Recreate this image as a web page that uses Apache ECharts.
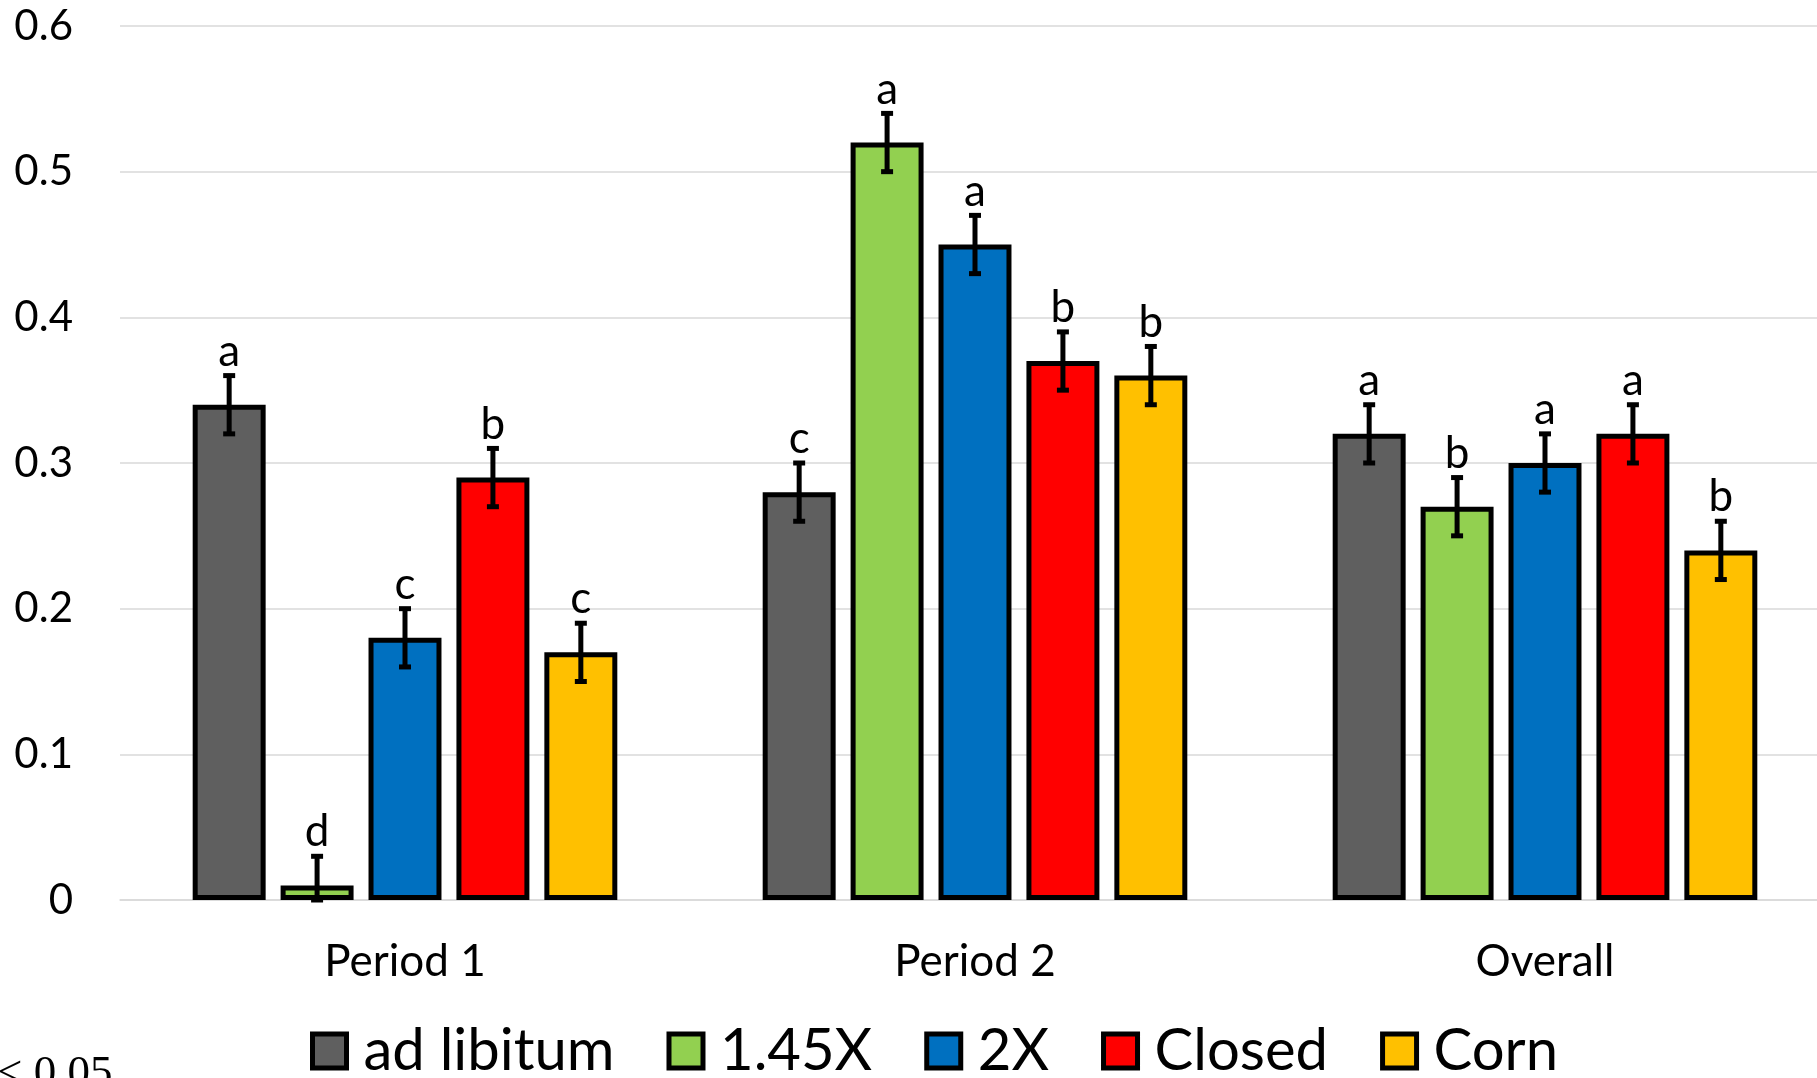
<!DOCTYPE html>
<html lang="en">

<head>
    <meta charset="utf-8">
    <title>Treatment bar chart</title>
    <script src="https://cdn.jsdelivr.net/npm/echarts@6.0.0/dist/echarts.min.js"></script>
    <style>* {
        margin: 0;
        padding: 0;
    }

    #chart-container {
        width: 1817px;
        height: 1078px;
        overflow: hidden;
        background: #fff;
    }</style>
</head>

<body>
    <div id="chart-container"></div>
    <script>
      // data
      var categories = ['Period 1', 'Period 2', 'Overall'];
      var treatments = ['ad libitum', '1.45X', '2X', 'Closed', 'Corn'];
      var colors = ['#5f5f5f', '#92d050', '#0070c0', '#ff0000', '#ffc000'];

      var adLibitumVals = [0.34, 0.28, 0.32];
      var x145Vals = [0.01, 0.52, 0.27];
      var x2Vals = [0.18, 0.45, 0.30];
      var closedVals = [0.29, 0.37, 0.32];
      var cornVals = [0.17, 0.36, 0.24];

      var adLibitumErr = [0.02, 0.02, 0.02];
      var x145Err = [0.02, 0.02, 0.02];
      var x2Err = [0.02, 0.02, 0.02];
      var closedErr = [0.02, 0.02, 0.02];
      var cornErr = [0.02, 0.02, 0.02];

      var adLibitumLetters = ['a', 'c', 'a'];
      var x145Letters = ['d', 'a', 'b'];
      var x2Letters = ['c', 'a', 'a'];
      var closedLetters = ['b', 'b', 'a'];
      var cornLetters = ['c', 'b', 'b'];

      var values = [adLibitumVals, x145Vals, x2Vals, closedVals, cornVals];
      var errors = [adLibitumErr, x145Err, x2Err, closedErr, cornErr];
      var letters = [adLibitumLetters, x145Letters, x2Letters, closedLetters, cornLetters];

      var BAR_FRAC = 0.128;   // bar width as part of the category band
      var BAR_GAP = 0.205;    // gap between bars, part of bar width

      var myChart = echarts.init(document.getElementById('chart-container'));

      var barSeries = treatments.map(function (name, i) {
          return {
              name: name,
              type: 'bar',
              data: values[i],
              barWidth: (BAR_FRAC * 100) + '%',
              barGap: (BAR_GAP * 100) + '%',
              itemStyle: {
                  color: colors[i],
                  borderColor: '#000',
                  borderWidth: 5
              },
              z: 2
          };
      });

      // error bars + significance letters in one custom series
      var errItems = [];
      var errLetters = [];
      treatments.forEach(function (name, t) {
          categories.forEach(function (c, k) {
              errItems.push([k, t, values[t][k], errors[t][k]]);
              errLetters.push(letters[t][k]);
          });
      });

      var errSeries = {
          type: 'custom',
          name: 'errors',
          data: errItems,
          z: 5,
          silent: true,
          encode: { x: 0, y: 2 },
          renderItem: function (params, api) {
              var cat = api.value(0);
              var t = api.value(1);
              var v = api.value(2);
              var e = api.value(3);
              var band = api.size([1, 0])[0];
              var pitch = band * BAR_FRAC * (1 + BAR_GAP);
              var x = api.coord([cat, 0])[0] + (t - 2) * pitch;
              var yTop = api.coord([cat, v + e])[1];
              var yBot = api.coord([cat, Math.max(v - e, 0)])[1];
              var ls = { stroke: '#000', lineWidth: 5 };
              return {
                  type: 'group',
                  children: [
                      { type: 'line', shape: { x1: x, y1: yTop, x2: x, y2: yBot }, style: ls },
                      { type: 'line', shape: { x1: x - 6, y1: yTop, x2: x + 6, y2: yTop }, style: ls },
                      { type: 'line', shape: { x1: x - 6, y1: yBot, x2: x + 6, y2: yBot }, style: ls },
                      {
                          type: 'text',
                          style: {
                              x: x,
                              y: yTop - 2,
                              text: errLetters[params.dataIndex],
                              font: '44px Lato',
                              fill: '#000',
                              align: 'center',
                              verticalAlign: 'bottom'
                          }
                      }
                  ]
              };
          }
      };

      myChart.setOption({
          animation: false,
          textStyle: { fontFamily: 'Lato' },
          grid: {
              left: 120,
              right: -13,
              top: 26,
              bottom: 178,
              containLabel: false,
              outerBoundsMode: 'none'
          },
          legend: {
              data: treatments.map(function (name, i) {
                  return {
                      name: name,
                      icon: 'rect',
                      itemStyle: { color: colors[i], borderColor: '#000', borderWidth: 5 }
                  };
              }),
              left: 305,
              top: 1017,
              itemWidth: 34,
              itemHeight: 34,
              itemGap: 52,
              textStyle: { fontSize: 58, color: '#000', fontFamily: 'Lato', padding: [0, 0, 0, 12] }
          },
          xAxis: {
              type: 'category',
              data: categories,
              axisLine: { show: true, lineStyle: { color: '#d9d9d9', width: 1.5 } },
              axisTick: { show: false },
              axisLabel: { fontSize: 44, color: '#000', margin: 40 }
          },
          yAxis: {
              type: 'value',
              min: 0,
              max: 0.6,
              interval: 0.1,
              axisLine: { show: false },
              axisTick: { show: false },
              splitLine: { lineStyle: { color: '#d9d9d9', width: 1.5 } },
              axisLabel: { fontSize: 42, color: '#000', margin: 47 }
          },
          graphic: [{
              type: 'text',
              left: -3,
              top: 1052,
              style: { text: '< 0.05', font: '45px "Liberation Serif"', fill: '#000' }
          }],
          series: barSeries.concat([errSeries])
      });
  </script>

</body>

</html>
